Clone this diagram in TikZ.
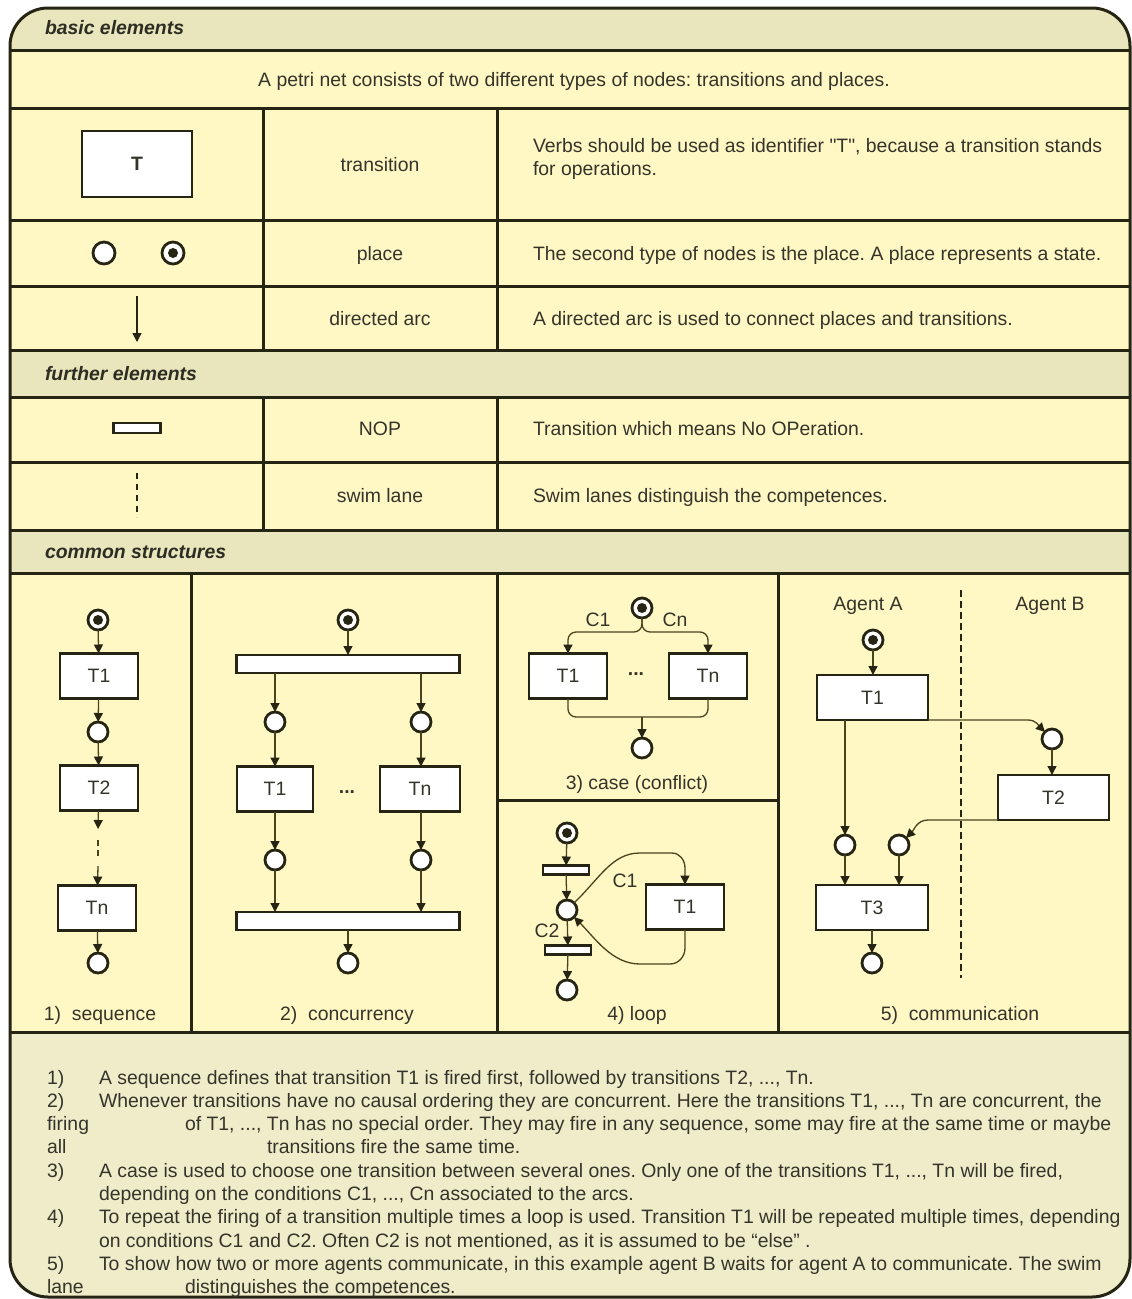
\documentclass[tikz,border=0pt]{standalone}
\usepackage{fontspec}
\setmainfont{Liberation Sans}
\usetikzlibrary{arrows.meta}
\definecolor{ink}{RGB}{38,36,18}
\definecolor{arcink}{RGB}{72,68,30}
\definecolor{txt}{RGB}{52,52,42}
\definecolor{headtxt}{RGB}{45,45,35}
\definecolor{cellfill}{RGB}{255,248,196}
\definecolor{headfill}{RGB}{233,229,188}
\definecolor{footfill}{RGB}{239,236,202}
\frenchspacing

\begin{document}
\begin{tikzpicture}[x=1pt,y=-1pt,
  font=\fontsize{19.4}{23}\selectfont,
  every node/.style={text=txt, inner sep=0pt, outer sep=0pt},
  tx/.style={anchor=base},
  txw/.style={anchor=base west},
  head/.style={anchor=base west, text=headtxt, font=\fontsize{19.4}{23}\selectfont\bfseries\itshape},
  trans/.style={draw=ink, fill=white, line width=2.5pt, minimum width=78pt, minimum height=45pt},
  place/.style={circle, draw=ink, fill=white, line width=2.8pt, minimum size=20pt},
  marked/.style={place, path picture={\fill[ink] (path picture bounding box.center) circle (5pt);}},
  nop/.style={draw=ink, fill=white, line width=2.2pt, minimum width=46pt, minimum height=9pt},
  bar/.style={draw=ink, fill=white, line width=2.2pt, minimum width=223pt, minimum height=18pt},
  arc/.style={draw=arcink, line width=1.3pt, -{Triangle[length=9pt,width=9pt,color=ink]}},
  grid/.style={draw=ink, line width=3pt},
]
\useasboundingbox (0,0) rectangle (1132,1299);
\fill[white] (0,0) rectangle (1132,1299);

% ---------- frame and bands ----------
\begin{scope}
  \clip[rounded corners=38pt] (10,8) rectangle (1130,1297);
  \fill[cellfill] (0,0) rectangle (1132,1299);
  \fill[headfill] (0,0) rectangle (1132,50);
  \fill[headfill] (0,350) rectangle (1132,397);
  \fill[headfill] (0,530) rectangle (1132,573);
  \fill[footfill] (0,1032) rectangle (1132,1299);
\end{scope}

\foreach \yy in {50,108,220,286,350,397,462,530,573,1032}
  \draw[grid] (10,\yy) -- (1130,\yy);
\foreach \xx in {263,497} {
  \draw[grid] (\xx,108) -- (\xx,350);
  \draw[grid] (\xx,397) -- (\xx,530);
}
\foreach \xx in {191,497,778}
  \draw[grid] (\xx,573) -- (\xx,1032);
\draw[grid] (497,800) -- (778,800);
\draw[ink, line width=3pt, rounded corners=38pt] (10,8) rectangle (1130,1297);

% ---------- basic elements ----------
\node[head] (hbasic) at (45,34) {basic elements};
\node[tx] (intro) at (574,86) {A petri net consists of two different types of nodes: transitions and places.};

\node[trans, minimum width=110pt, minimum height=66pt] (bT) at (137,164) {\bfseries T};
\node[tx] (lT) at (380,171) {transition};
\node[txw, align=left, anchor=north west] (dT) at (533,138) {Verbs should be used as identifier \textquotedbl T\textquotedbl, because a transition stands\\for operations.};

\node[place, minimum size=22pt] (bp1) at (104,253) {};
\node[marked, minimum size=22pt] (bp2) at (173,253) {};
\node[tx] (lP) at (380,260) {place};
\node[txw] (dP) at (533,260) {The second type of nodes is the place. A place represents a state.};

\coordinate (ba1) at (137,296);
\coordinate (ba2) at (137,342);
\draw[arc, draw=ink] (ba1) -- (ba2);
\node[tx] (lA) at (380,325) {directed arc};
\node[txw] (dA) at (533,325) {A directed arc is used to connect places and transitions.};

% ---------- further elements ----------
\node[head] (hfurther) at (45,380) {further elements};

\node[nop, minimum width=47pt, minimum height=10pt] (bN) at (137,428) {};
\node[tx] (lN) at (380,435) {NOP};
\node[txw] (dN) at (533,435) {Transition which means No OPeration.};

\coordinate (bs1) at (137,473);
\coordinate (bs2) at (137,517);
\draw[ink, line width=1.5pt, dash pattern=on 6pt off 5pt] (bs1) -- (bs2);
\node[tx] (lS) at (380,502) {swim lane};
\node[txw] (dS) at (533,502) {Swim lanes distinguish the competences.};

% ---------- common structures ----------
\node[head] (hcommon) at (45,558) {common structures};

% 1) sequence
\node[marked] (s0) at (98,620) {};
\node[trans] (s1) at (99,676) {T1};
\node[place] (s2) at (98,732) {};
\node[trans] (s3) at (99,788) {T2};
\coordinate (s3a) at (98,829);
\coordinate (s3b) at (98,840);
\coordinate (s3c) at (98,858);
\coordinate (s3d) at (98,866);
\node[trans] (s4) at (97,908) {Tn};
\node[place] (s5) at (98,963) {};
\draw[arc] (s0) -- (s1);
\draw[arc] (s1) -- (s2);
\draw[arc] (s2) -- (s3);
\draw[arc] (s3) -- (s3a);
\draw[arcink, line width=2pt, dash pattern=on 6pt off 4pt] (s3b) -- (s3c);
\draw[arc] (s3d) -- (s4);
\draw[arc] (s4) -- (s5);
\node[tx] (cap1) at (100,1020) {1)\ \ sequence};

% 2) concurrency
\node[marked] (c0) at (348,620) {};
\node[bar] (c1) at (348,664) {};
\node[place] (c2) at (275,722) {};
\node[place] (c3) at (421,722) {};
\node[trans, minimum width=76pt] (c4) at (275,789) {T1};
\node[trans, minimum width=80pt] (c5) at (420,789) {Tn};
\node[tx] (cdots) at (347,793) {\textbf{...}};
\node[place] (c6) at (275,860) {};
\node[place] (c7) at (421,860) {};
\node[bar] (c8) at (348,921) {};
\node[place] (c9) at (348,963) {};
\draw[arc] (c0) -- (c1);
\draw[arc] (c1.south -| c2) -- (c2);
\draw[arc] (c1.south -| c3) -- (c3);
\draw[arc] (c2) -- (c4.north -| c2);
\draw[arc] (c3) -- (c5.north -| c3);
\draw[arc] (c4.south -| c6) -- (c6);
\draw[arc] (c5.south -| c7) -- (c7);
\draw[arc] (c6) -- (c8.north -| c6);
\draw[arc] (c7) -- (c8.north -| c7);
\draw[arc] (c8) -- (c9);
\node[tx] (cap2) at (347,1020) {2)\ \ concurrency};

% 3) case (conflict)
\node[marked] (k0) at (642,608) {};
\node[trans] (k1) at (568,676) {T1};
\node[trans] (k2) at (708,676) {Tn};
\node[tx] (kdots) at (636,675) {\textbf{...}};
\node[place] (k3) at (642,748) {};
\coordinate (ksplit) at (642,632);
\coordinate (kjoin) at (642,717);
\draw[arc, rounded corners=8pt] (k0) -- (ksplit) -| (k1);
\draw[arc, rounded corners=8pt] (k0) -- (ksplit) -| (k2);
\draw[arcink, line width=1.3pt, rounded corners=8pt] (k1) |- (kjoin);
\draw[arcink, line width=1.3pt, rounded corners=8pt] (k2) |- (kjoin);
\draw[arc] (kjoin) -- (k3);
\node[tx] (kc1) at (598,626) {C1};
\node[tx] (kcn) at (675,626) {Cn};
\node[tx] (cap3) at (637,789) {3) case (conflict)};

% 4) loop
\node[marked] (l0) at (567,833) {};
\node[nop] (l1) at (566,870) {};
\node[place] (l2) at (567,910) {};
\node[trans] (l3) at (685,907) {T1};
\node[nop] (l4) at (568,950) {};
\node[place] (l5) at (567,990) {};
\draw[arc] (l0) -- (l1);
\draw[arc] (l1) -- (l2);
\draw[arc] (l2) -- (l4);
\draw[arc] (l4) -- (l5);
\coordinate (lo1) at (640,853);
\coordinate (lo2) at (672,853);
\coordinate (lo3) at (685,868);
\coordinate (lb1) at (685,948);
\coordinate (lb2) at (670,964);
\coordinate (lb3) at (640,964);
\draw[arc] (l2.north east) .. controls (600,878) and (612,853) .. (lo1) -- (lo2)
  to[out=0,in=90] (lo3) -- (l3.north);
\draw[arc] (l3.south) -- (lb1) to[out=-90,in=0] (lb2) -- (lb3)
  .. controls (612,964) and (595,938) .. (l2.south east);
\node[tx] (lc1) at (625,887) {C1};
\node[tx] (lc2) at (547,937) {C2};
\node[tx] (cap4) at (637,1020) {4) loop};

% 5) communication
\node[tx] (agA) at (868,610) {Agent A};
\node[tx] (agB) at (1050,610) {Agent B};
\coordinate (lane1) at (961,590);
\coordinate (lane2) at (961,978);
\draw[ink, line width=1.3pt, dash pattern=on 7pt off 4pt] (lane1) -- (lane2);
\node[marked] (m0) at (873,640) {};
\node[trans, minimum width=111pt] (m1) at (872.5,697.5) {T1};
\node[place] (m2) at (1052,739) {};
\node[trans, minimum width=111pt] (m3) at (1053.5,797.5) {T2};
\node[place] (m4) at (845,845) {};
\node[place] (m5) at (899,845) {};
\node[trans, minimum width=112pt] (m6) at (872,907.5) {T3};
\node[place] (m7) at (872,963) {};
\coordinate (mc1) at (1028,720);
\coordinate (mc2) at (928,820);
\draw[arc] (m0) -- (m1.north -| m0);
\draw[arc] (m1.south -| m4) -- (m4);
\draw[arc] (m1.south east) -- (mc1) to[out=0,in=135] (m2.north west);
\draw[arc] (m2) -- (m3.north -| m2);
\draw[arc] (m3.south west) -- (mc2) to[out=180,in=45] (m5.north east);
\draw[arc] (m4) -- (m6.north -| m4);
\draw[arc] (m5) -- (m6.north -| m5);
\draw[arc] (m6.south -| m7) -- (m7);
\node[tx] (cap5) at (960,1020) {5)\ \ communication};

% ---------- footnotes ----------
\node[txw] (n1) at (47,1084) {1)};
\node[txw] (t1) at (99,1084) {A sequence defines that transition T1 is fired first, followed by transitions T2, ..., Tn.};
\node[txw] (n2) at (47,1107) {2)};
\node[txw] (t2) at (99,1107) {Whenever transitions have no causal ordering they are concurrent. Here the transitions T1, ..., Tn are concurrent, the};
\node[txw] (n2b) at (47,1130) {firing};
\node[txw] (t2b) at (185,1130) {of T1, ..., Tn has no special order. They may fire in any sequence, some may fire at the same time or maybe};
\node[txw] (n2c) at (47,1153) {all};
\node[txw] (t2c) at (267,1153) {transitions fire the same time.};
\node[txw] (n3) at (47,1177) {3)};
\node[txw] (t3) at (99,1177) {A case is used to choose one transition between several ones. Only one of the transitions T1, ..., Tn will be fired,};
\node[txw] (t3b) at (99,1200) {depending on the conditions C1, ..., Cn associated to the arcs.};
\node[txw] (n4) at (47,1223) {4)};
\node[txw] (t4) at (99,1223) {To repeat the firing of a transition multiple times a loop is used. Transition T1 will be repeated multiple times, depending};
\node[txw] (t4b) at (99,1247) {on conditions C1 and C2. Often C2 is not mentioned, as it is assumed to be “else” .};
\node[txw] (n5) at (47,1270) {5)};
\node[txw] (t5) at (99,1270) {To show how two or more agents communicate, in this example agent B waits for agent A to communicate. The swim};
\node[txw] (n5b) at (47,1293) {lane};
\node[txw] (t5b) at (185,1293) {distinguishes the competences.};
\end{tikzpicture}
\end{document}
